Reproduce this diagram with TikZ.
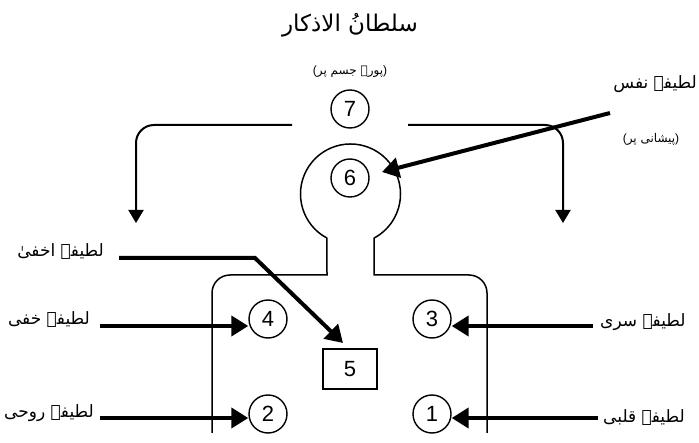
\documentclass[tikz,border=0pt]{standalone}
\usepackage{fontspec}
\setmainfont{Liberation Sans}
\newfontfamily\urdu[Script=Arabic]{DejaVu Sans}
\TeXXeTstate=1
\usetikzlibrary{arrows.meta}
\begin{document}
\begin{tikzpicture}[x=1pt,y=-1pt,
  num/.style={circle,draw,line width=1.4pt,minimum size=38pt,inner sep=0pt,font=\fontsize{22}{22}\selectfont},
  numbox/.style={rectangle,draw,line width=1.4pt,minimum width=54pt,minimum height=40pt,inner sep=0pt,font=\fontsize{22}{22}\selectfont},
  lab/.style={font=\urdu\fontsize{17}{22}\selectfont,inner sep=0pt},
  sublab/.style={font=\urdu\fontsize{12}{16}\selectfont,inner sep=0pt},
  thickarrow/.style={line width=4pt,-{Triangle[length=17pt,width=20pt]}},
  bracketarrow/.style={line width=2pt,rounded corners=18pt,-{Triangle[length=13pt,width=15pt]}},
  outline/.style={line width=1.5pt}
]
\useasboundingbox (0,0) rectangle (699,443);
% titles
\node[font=\urdu\fontsize{23}{28}\selectfont,inner sep=0pt] (title) at (350,25) {\beginR سلطانُ الاذکار\endR};
\node[sublab] (sub) at (350,72) {{\rmfamily(}\beginR پورے جسم پر\endR{\rmfamily)}};
% numbered nodes
\node[num] (c7) at (350,109) {7};
\node[num] (c6) at (350,178) {6};
\node[num] (c4) at (268,319) {4};
\node[num] (c3) at (432,319) {3};
\node[num] (c2) at (268,414) {2};
\node[num] (c1) at (432,414) {1};
\node[numbox] (b5) at (350,369) {5};
% body outline
\draw[outline] (212,433) -- (212,293) arc[start angle=180,end angle=270,radius=18]
  -- (327,275) -- (326.95,238.1) arc[start angle=118.1,end angle=421.9,radius=50]
  -- (374,275) -- (469,275) arc[start angle=270,end angle=360,radius=18] -- (487,433);
% brackets from 7
\coordinate (bl) at (292,125);
\coordinate (blt) at (136,223);
\coordinate (br) at (408,125);
\coordinate (brt) at (563,223);
\draw[bracketarrow] (bl) -| (blt);
\draw[bracketarrow] (br) -| (brt);
% labels
\node[lab,anchor=east] (tnafs) at (697,84) {\beginR لطیفہ نفس\endR};
\node[sublab] (tpesh) at (651,139) {{\rmfamily(}\beginR پیشانی پر\endR{\rmfamily)}};
\node[lab,anchor=east] (takhfa) at (104,252) {\beginR لطیفہ اخفیٰ\endR};
\node[lab,anchor=east] (tkhafi) at (90,320) {\beginR لطیفہ خفی\endR};
\node[lab,anchor=east] (truhi) at (94,413) {\beginR لطیفہ روحی\endR};
\node[lab,anchor=west] (tsirri) at (600,322) {\beginR لطیفہ سری\endR};
\node[lab,anchor=west] (tqalbi) at (603,418) {\beginR لطیفہ قلبی\endR};
% arrows
\coordinate (snafs) at (610,113);
\coordinate (e6) at (382,172);
\draw[thickarrow] (snafs) -- (e6);
\coordinate (sakh) at (119,258);
\coordinate (k5) at (255,258);
\coordinate (e5) at (343,343);
\draw[thickarrow] (sakh) -- (k5) -- (e5);
\coordinate (s4) at (100,326);
\coordinate (s2) at (100,418);
\coordinate (s3) at (593,326);
\coordinate (s1) at (598,418);
\draw[thickarrow] (s4) -- (s4 -| c4.west);
\draw[thickarrow] (s2) -- (s2 -| c2.west);
\draw[thickarrow] (s3) -- (s3 -| c3.east);
\draw[thickarrow] (s1) -- (s1 -| c1.east);
\end{tikzpicture}
\end{document}
